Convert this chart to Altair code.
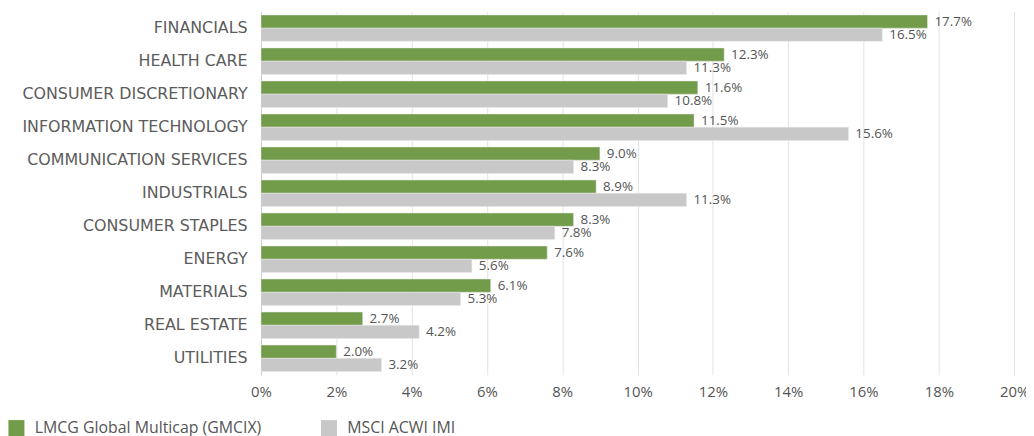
import altair as alt
import pandas as pd

sectors = ["FINANCIALS", "HEALTH CARE", "CONSUMER DISCRETIONARY", "INFORMATION TECHNOLOGY",
           "COMMUNICATION SERVICES", "INDUSTRIALS", "CONSUMER STAPLES", "ENERGY",
           "MATERIALS", "REAL ESTATE", "UTILITIES"]
fund = [17.7, 12.3, 11.6, 11.5, 9.0, 8.9, 8.3, 7.6, 6.1, 2.7, 2.0]
bench = [16.5, 11.3, 10.8, 15.6, 8.3, 11.3, 7.8, 5.6, 5.3, 4.2, 3.2]
series = ["LMCG Global Multicap (GMCIX)", "MSCI ACWI IMI"]
colors = ["#729B4A", "#C8C8C8"]

rows = []
for s, f, b in zip(sectors, fund, bench):
    rows.append({"sector": s, "series": series[0], "value": f})
    rows.append({"sector": s, "series": series[1], "value": b})
df = pd.DataFrame(rows)

FONT = "Open Sans"
CAT_FONT = "DejaVu Sans"
TXT = "#555555"

base = alt.Chart(df).encode(
    y=alt.Y("sector:N", sort=sectors, title=None,
            scale=alt.Scale(paddingInner=0.2, paddingOuter=0.1),
            axis=alt.Axis(labelFontSize=16, labelColor="#5c5c5c", labelFont=CAT_FONT, labelPadding=14,
                          ticks=False, domain=True, domainColor="#cccccc", labelLimit=300)),
    yOffset=alt.YOffset("series:N", sort=series),
)

bars = base.mark_bar(stroke="#e8e8e8", strokeWidth=0.5).encode(
    x=alt.X("value:Q", title=None,
            scale=alt.Scale(domain=[0, 20]),
            axis=alt.Axis(values=list(range(0, 21, 2)), labelExpr="datum.value + '%'",
                          labelFontSize=15, labelColor=TXT, labelFont=FONT, labelPadding=10,
                          labelFlush=False,
                          ticks=False, domain=False, gridColor="#e3e3e3", grid=True)),
    color=alt.Color("series:N", sort=series,
                    scale=alt.Scale(domain=series, range=colors),
                    legend=alt.Legend(title=None, orient="none", direction="horizontal",
                                      legendX=-255, legendY=411,
                                      symbolType="square", symbolSize=260,
                                      symbolStrokeWidth=0, labelFontSize=16, labelFont=FONT,
                                      labelColor=TXT, columnPadding=59, labelOffset=10,
                                      labelLimit=400)),
)

labels = base.mark_text(align="left", baseline="middle", dx=7, fontSize=13.5, font=FONT,
                        color=TXT).encode(
    x="value:Q",
    text=alt.Text("label:N"),
).transform_calculate(label="format(datum.value, '.1f') + '%'")

chart = (bars + labels).properties(
    width=759, height=366,
    padding={"left": 255, "top": 2, "right": 12, "bottom": 60},
    autosize=alt.AutoSizeParams(type="none"),
).configure_view(stroke=None).configure_axis(grid=False)

chart = chart.configure_axisX(grid=True)

chart.save("out.html", embed_options={"renderer": "svg", "actions": False})
